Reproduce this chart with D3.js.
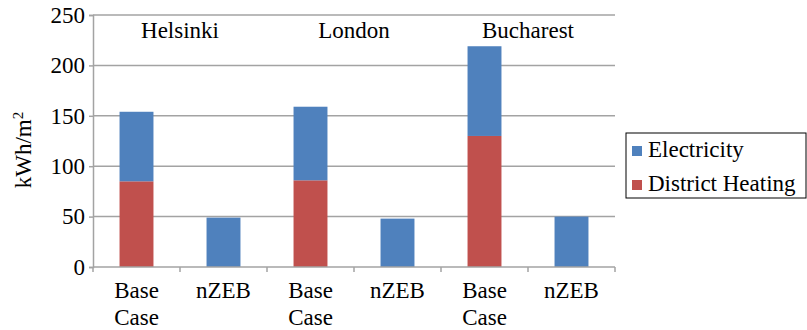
<!DOCTYPE html>
<html><head><meta charset="utf-8">
<script src="https://cdn.jsdelivr.net/npm/d3@7"></script>
</head><body style="margin:0;background:#fff">
<svg id="c" width="807" height="330"></svg>
<script>
const categories = ["H-Base","H-nZEB","L-Base","L-nZEB","B-Base","B-nZEB"];
const catLabels = [["Base","Case"],["nZEB"],["Base","Case"],["nZEB"],["Base","Case"],["nZEB"]];
const cities = ["Helsinki","London","Bucharest"];
const districtHeating = [85, 0, 86, 0, 130, 0];
const electricity = [69, 49, 73, 48, 89, 50];
const yTicks = [0,50,100,150,200,250];
const seriesNames = ["Electricity","District Heating"];
const colors = {"Electricity":"#4F81BD","District Heating":"#C0504D"};

const FONT = '"Liberation Serif"';
const FS = "23px";
const svg = d3.select("#c");
const m = {l:93, r:615, t:15, b:267};
const x = d3.scaleBand().domain(categories).range([m.l, m.r]).paddingInner(0.61).paddingOuter(0.305);
const y = d3.scaleLinear().domain([0,250]).range([m.b, m.t]);

function txt(sel){ return sel.style("font-family",FONT).style("font-size",FS).attr("fill","#000"); }

svg.append("g").selectAll("line").data(yTicks.filter(d=>d>0)).join("line")
  .attr("x1", m.l).attr("x2", m.r).attr("y1", d=>y(d)).attr("y2", d=>y(d))
  .attr("stroke","#a3a3a3").attr("stroke-width",1.5);

const rows = categories.map((c,i)=>({c, dh:districtHeating[i], el:electricity[i]}));
const stack = d3.stack().keys(["dh","el"])(rows);
const keyName = {dh:"District Heating", el:"Electricity"};
stack.forEach(layer=>{
  svg.append("g").selectAll("rect").data(layer).join("rect")
    .attr("x", d=>x(d.data.c)).attr("width", x.bandwidth())
    .attr("y", d=>y(d[1])).attr("height", d=>y(d[0])-y(d[1]))
    .attr("fill", colors[keyName[layer.key]]);
});

const ya = svg.append("g").attr("transform",`translate(${m.l},0)`)
  .call(d3.axisLeft(y).tickValues(yTicks).tickSize(4).tickPadding(4));
ya.attr("font-family",null).attr("font-size",null);
ya.select(".domain").attr("stroke","#a3a3a3").attr("stroke-width",1.5);
ya.selectAll(".tick line").attr("stroke","#a3a3a3").attr("stroke-width",1.5);
txt(ya.selectAll("text"));

svg.append("line").attr("x1",m.l).attr("x2",m.r).attr("y1",m.b).attr("y2",m.b)
  .attr("stroke","#a3a3a3").attr("stroke-width",1.5);
const step = x.step();
svg.append("g").selectAll("line").data(d3.range(0,categories.length+1)).join("line")
  .attr("x1", i=>m.l + i*step).attr("x2", i=>m.l + i*step)
  .attr("y1", m.b).attr("y2", m.b+5)
  .attr("stroke","#a3a3a3").attr("stroke-width",1.5);

categories.forEach((c,i)=>{
  const cx = x(c)+x.bandwidth()/2;
  catLabels[i].forEach((s,j)=>{
    txt(svg.append("text").attr("x", cx).attr("y", 298 + j*27).attr("text-anchor","middle")).text(s);
  });
});

cities.forEach((city,i)=>{
  const cx = (x(categories[2*i]) + x(categories[2*i+1]) + x.bandwidth())/2;
  txt(svg.append("text").attr("x", cx).attr("y", 38).attr("text-anchor","middle")).text(city);
});

const yl = txt(svg.append("text").attr("transform","translate(31,150) rotate(-90)").attr("text-anchor","middle"));
yl.append("tspan").text("kWh/m");
yl.append("tspan").attr("dy",-8).style("font-size","15px").text("2");

const lg = svg.append("g");
lg.append("rect").attr("x",626).attr("y",133).attr("width",180).attr("height",65)
  .attr("fill","#fff").attr("stroke","#000").attr("stroke-width",1);
seriesNames.forEach((s,i)=>{
  lg.append("rect").attr("x",632).attr("y",146+i*34).attr("width",10).attr("height",10).attr("fill",colors[s]);
  txt(lg.append("text").attr("x",648).attr("y",157+i*34)).text(s);
});
</script>
</body></html>
